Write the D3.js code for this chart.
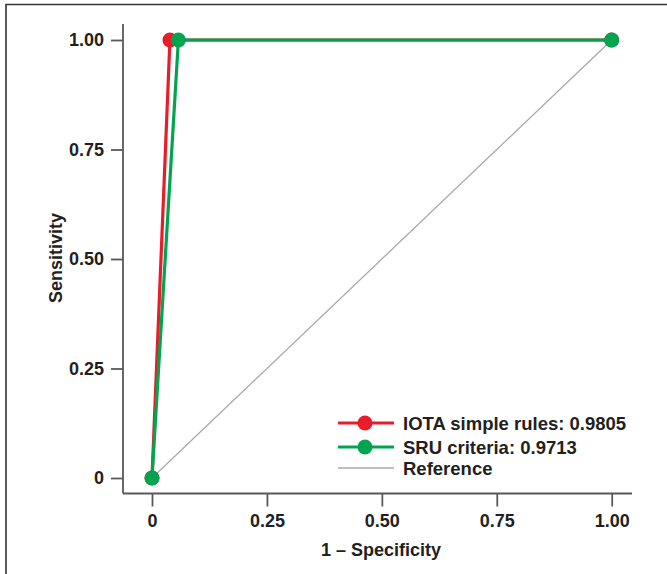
<!DOCTYPE html>
<html><head><meta charset="utf-8">
<script src="https://cdn.jsdelivr.net/npm/d3@7"></script>
<style>
html,body{margin:0;padding:0;background:#fff;}
svg text{font-family:"Liberation Sans",Arial,Helvetica,sans-serif;font-weight:bold;fill:#231f20;}
</style></head>
<body>
<script>
// Data
const iotaFPR = [0, 0.039, 1];
const iotaTPR = [0, 1, 1];
const sruFPR = [0, 0.0574, 1];
const sruTPR = [0, 1, 1];
const refFPR = [0, 1];
const refTPR = [0, 1];
const tickValues = [0, 0.25, 0.5, 0.75, 1];
const tickLabels = ["0", "0.25", "0.50", "0.75", "1.00"];
const legendLabels = ["IOTA simple rules: 0.9805", "SRU criteria: 0.9713", "Reference"];
const xTitle = "1 \u2013 Specificity";
const yTitle = "Sensitivity";

const W = 667, H = 574;
const red = "#e91d2a", green = "#00a550", grey = "#a8a8a8", axisCol = "#58595b";

const svg = d3.select("body").append("svg").attr("width", W).attr("height", H);

// frame (top and left)
svg.append("path").attr("d", `M6,${H} L6,4.5 L${W},4.5`).attr("fill","none").attr("stroke","#333").attr("stroke-width",1.6);

const x = d3.scaleLinear().domain([0,1]).range([152, 611.7]);
const y = d3.scaleLinear().domain([0,1]).range([478, 40]);
const xLo = x.invert(123), xHi = x.invert(632);
const yLo = y.invert(493.5), yHi = y.invert(24);

// axes lines
svg.append("line").attr("x1", x(xLo)).attr("x2", x(xHi)).attr("y1", y(yLo)).attr("y2", y(yLo)).attr("stroke", axisCol).attr("stroke-width", 1.8);
svg.append("line").attr("x1", x(xLo)).attr("x2", x(xLo)).attr("y1", y(yLo)).attr("y2", y(yHi)).attr("stroke", axisCol).attr("stroke-width", 1.8);

const xAxis = d3.axisBottom(x).tickValues(tickValues).tickFormat((d,i)=>tickLabels[i]).tickSize(13).tickPadding(8);
const gx = svg.append("g").attr("transform", `translate(0,${y(yLo)})`).call(xAxis);
gx.select(".domain").remove();
gx.selectAll(".tick line").attr("stroke", axisCol).attr("stroke-width", 1.8);
gx.selectAll(".tick text").attr("font-size", 18).attr("fill", "#231f20");

const yAxis = d3.axisLeft(y).tickValues(tickValues).tickFormat((d,i)=>tickLabels[i]).tickSize(12).tickPadding(7);
const gy = svg.append("g").attr("transform", `translate(${x(xLo)},0)`).call(yAxis);
gy.select(".domain").remove();
gy.selectAll(".tick line").attr("stroke", axisCol).attr("stroke-width", 1.8);
gy.selectAll(".tick text").attr("font-size", 18).attr("fill", "#231f20");

// titles
svg.append("text").attr("x", 381).attr("y", 556).attr("text-anchor","middle").attr("font-size", 18).text(xTitle);
svg.append("text").attr("transform", "translate(62,258) rotate(-90)").attr("text-anchor","middle").attr("font-size", 18).text(yTitle);

const line = d3.line().x(d=>x(d[0])).y(d=>y(d[1]));
const zip = (a,b)=>a.map((v,i)=>[v,b[i]]);

// reference
svg.append("path").datum(zip(refFPR, refTPR)).attr("d", line).attr("fill","none").attr("stroke", grey).attr("stroke-width", 1.3);

// curves
function curve(fx, ty, col){
  const pts = zip(fx, ty);
  svg.append("path").datum(pts).attr("d", line).attr("fill","none").attr("stroke", col).attr("stroke-width", 3.2).attr("stroke-linejoin","round");
  svg.selectAll(null).data(pts).enter().append("circle").attr("cx", d=>x(d[0])).attr("cy", d=>y(d[1])).attr("r", 7.5).attr("fill", col);
}
curve(iotaFPR, iotaTPR, red);
curve(sruFPR, sruTPR, green);

// legend
const lg = svg.append("g");
const rows = [{c:red, p:true, w:3.2},{c:green, p:true, w:3.2},{c:grey, p:false, w:1.3}];
const ly = [423, 447, 468];
rows.forEach((r,i)=>{
  lg.append("line").attr("x1",338).attr("x2",394).attr("y1",ly[i]).attr("y2",ly[i]).attr("stroke", r.c).attr("stroke-width", r.w);
  if (r.p) lg.append("circle").attr("cx",365).attr("cy",ly[i]).attr("r",7.5).attr("fill", r.c);
  lg.append("text").attr("x",403).attr("y",ly[i]).attr("dy","0.36em").attr("font-size",18.5).text(legendLabels[i]);
});
</script>
</body></html>
